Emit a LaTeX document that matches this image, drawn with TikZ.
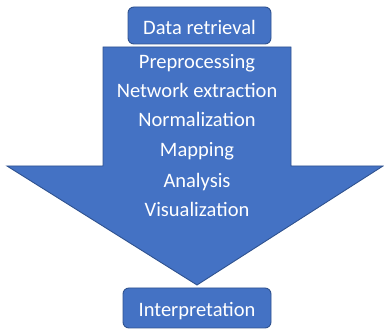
\documentclass[tikz,border=0pt]{standalone}
\usepackage{fontspec}
\setmainfont{Carlito}
\definecolor{boxfill}{HTML}{4472C4}
\definecolor{boxline}{HTML}{2F528F}
\begin{document}
\begin{tikzpicture}[x=1pt,y=1pt,
  stage/.style={draw=boxline, line width=0.9pt, fill=boxfill, rounded corners=6pt},
  steptext/.style={text=white, font=\fontsize{20.5}{24}\selectfont, anchor=base, inner sep=0pt}]
\useasboundingbox (0,0) rectangle (384,330);
% big downward arrow
\draw[draw=boxline, line width=0.9pt, fill=boxfill]
  (103,283) -- (291,283) -- (291,164) -- (383,164) -- (197,45)
  -- (7,164) -- (103,164) -- cycle;
% top and bottom boxes
\draw[stage] (128,286) rectangle (271,323);
\draw[stage] (123,2) rectangle (271,42);
\node[steptext] (retrieval) at (199.5,295) {Data retrieval};
\node[steptext] (interp) at (197,13) {Interpretation};
% processing stages inside the arrow
\node[steptext] (pre)  at (197,261) {Preprocessing};
\node[steptext] (net)  at (197,232) {Network extraction};
\node[steptext] (norm) at (197,203) {Normalization};
\node[steptext] (map)  at (197,173) {Mapping};
\node[steptext] (ana)  at (197,142) {Analysis};
\node[steptext] (vis)  at (197,113) {Visualization};
\end{tikzpicture}
\end{document}
